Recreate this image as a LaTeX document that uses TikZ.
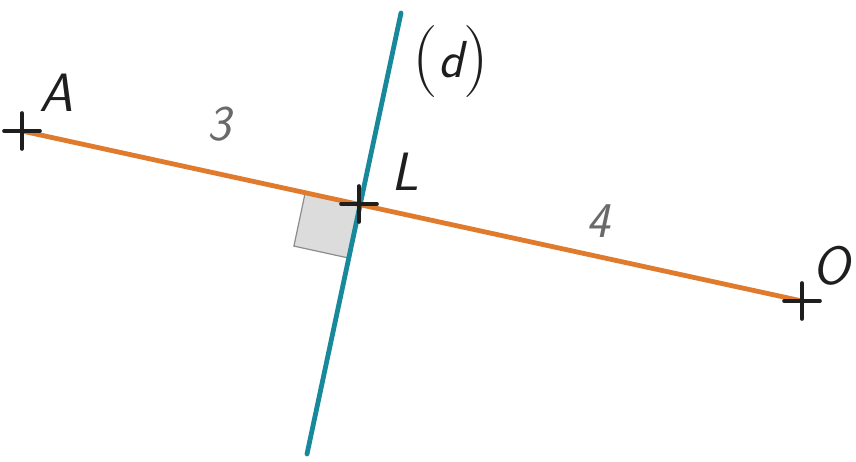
\documentclass[tikz,border=0pt]{standalone}
\usepackage{fontspec}
\definecolor{seg}{HTML}{E07A2C}
\definecolor{dline}{HTML}{17899A}
\definecolor{numgray}{HTML}{6A6A6A}
\definecolor{sqfill}{HTML}{DCDCDC}
\definecolor{sqdraw}{HTML}{8C8C8C}
\definecolor{ink}{HTML}{1E1E1E}
\tikzset{
  crossmark/.style={draw=ink, line width=3.6pt, line cap=round},
  ptlabel/.style={text=ink, inner sep=0pt, font=\fontsize{54}{54}\selectfont\sffamily\itshape},
  numlabel/.style={text=numgray, inner sep=0pt, font=\fontsize{50}{50}\selectfont\sffamily\itshape},
}
\begin{document}
\begin{tikzpicture}[x=1pt,y=-1pt]
\useasboundingbox (0,0) rectangle (856,462);
\coordinate (A) at (22,131);
\coordinate (L) at (359,204);
\coordinate (O) at (802,301);
\coordinate (dtop) at (401,13);
\coordinate (dbot) at (307,454);
% right angle mark
\draw[fill=sqfill, draw=sqdraw, line width=1.2pt] (L) -- ++(-53.7,-11.7) -- ++(-11.4,53.8) -- ++(53.7,11.7) -- cycle;
% segment [AO]
\draw[seg, line width=4.8pt] (A) -- (O);
% line (d)
\draw[dline, line width=4.8pt, line cap=round] (dtop) -- (dbot);
% crosses
\foreach \p in {A,L,O}{
  \draw[crossmark] ([xshift=-18pt]\p) -- ([xshift=18pt]\p);
  \draw[crossmark] ([yshift=-18pt]\p) -- ([yshift=18pt]\p);
}
% labels
\node[ptlabel] (lA) at (56,93) {A};
\node[ptlabel] (lL) at (405,172) {L};
\node[ptlabel] (lO) at (831,266) {O};
\node[numlabel] (n3) at (219,124) {3};
\node[numlabel] (n4) at (598,221) {4};
\node[text=ink, inner sep=0pt] (ld) at (451,62) {\fontsize{72}{72}\selectfont(\raisebox{2pt}{\fontsize{52}{52}\selectfont\sffamily\itshape d})};
\end{tikzpicture}
\end{document}
